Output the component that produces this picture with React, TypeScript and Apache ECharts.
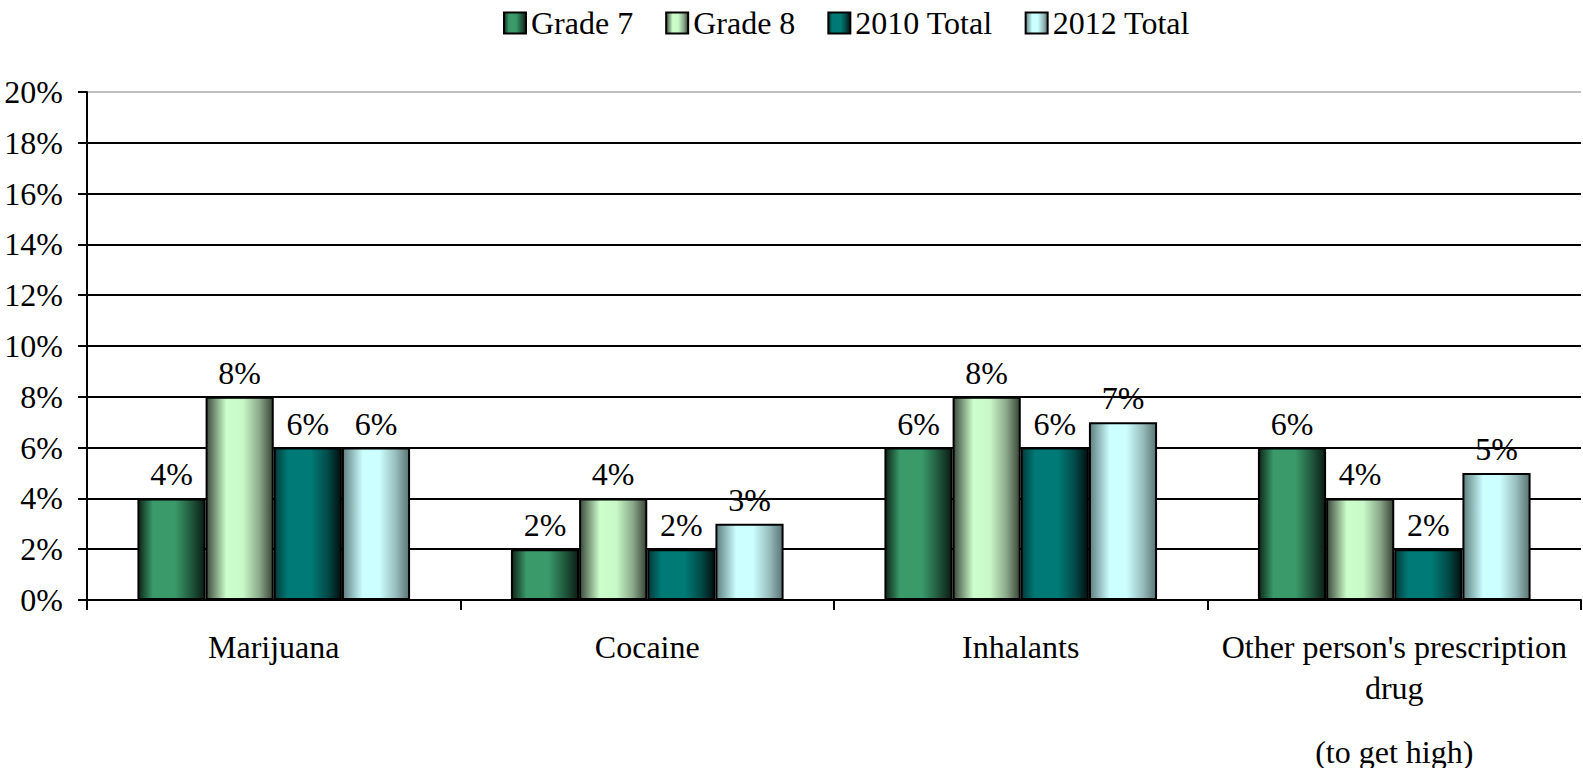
import React, { useEffect, useRef } from "react";
import * as echarts from "echarts";

const categories = [
  "Marijuana",
  "Cocaine",
  "Inhalants",
  "Other person's prescription\ndrug\n{b|(to get high)}",
];
const seriesNames = ["Grade 7", "Grade 8", "2010 Total", "2012 Total"];
const grade7 = [4, 2, 6, 6];
const grade8 = [8, 4, 8, 4];
const total2010 = [6, 2, 6, 2];
const total2012 = [6, 3, 7, 5];
const yTicks = [0, 2, 4, 6, 8, 10, 12, 14, 16, 18, 20];

const FONT = "'Liberation Serif', 'Times New Roman', serif";
const FS = 32;

function grad(stops: [number, string][]) {
  return new echarts.graphic.LinearGradient(
    0,
    0,
    1,
    0,
    stops.map(([offset, color]) => ({ offset, color }))
  );
}

const fills = [
  grad([
    [0, "#0e2619"],
    [0.22, "#3a9a6a"],
    [0.55, "#3a9a6a"],
    [0.75, "#256647"],
    [1, "#0b1d14"],
  ]),
  grad([
    [0, "#3d4a3d"],
    [0.3, "#ccffcc"],
    [0.55, "#c8f8c8"],
    [0.8, "#8aa88a"],
    [1, "#3a4536"],
  ]),
  grad([
    [0, "#003a3a"],
    [0.2, "#007a76"],
    [0.55, "#007a76"],
    [0.8, "#024a48"],
    [1, "#001010"],
  ]),
  grad([
    [0, "#5f7f80"],
    [0.3, "#ccffff"],
    [0.55, "#ccffff"],
    [0.8, "#98bcbc"],
    [1, "#5a7474"],
  ]),
];

export default function App() {
  const ref = useRef<HTMLDivElement>(null);
  useEffect(() => {
    if (!ref.current) return;
    const chart = echarts.init(ref.current, undefined, { renderer: "svg" });
    const data = [grade7, grade8, total2010, total2012];
    const splitColors = yTicks.map((t) => (t === 20 ? "#c0c0c0" : "#000000"));
    chart.setOption({
      animation: false,
      textStyle: { fontFamily: FONT },
      legend: {
        top: 2,
        left: 498,
        icon: "rect",
        itemWidth: 22,
        itemHeight: 21,
        itemGap: 32,
        textStyle: { fontFamily: FONT, fontSize: FS, color: "#000", lineHeight: 32 },
        data: seriesNames,
      },
      grid: {
        left: 87,
        right: 2,
        top: 92,
        bottom: 168,
        containLabel: false,
        outerBoundsMode: "none",
      },
      xAxis: {
        type: "category",
        data: categories,
        axisLine: { lineStyle: { color: "#000", width: 2 } },
        axisTick: { show: true, length: 10, lineStyle: { color: "#000", width: 2 } },
        axisLabel: {
          fontFamily: FONT,
          fontSize: FS,
          color: "#000",
          lineHeight: 41,
          margin: 26,
          interval: 0,
          rich: { b: { fontFamily: FONT, fontSize: FS, color: "#000", lineHeight: 87 } },
        },
      },
      yAxis: {
        type: "value",
        min: 0,
        max: 20,
        interval: 2,
        axisLine: { show: true, lineStyle: { color: "#000", width: 2 } },
        axisTick: { show: true, length: 9, lineStyle: { color: "#000", width: 2 } },
        axisLabel: {
          fontFamily: FONT,
          fontSize: FS,
          color: "#000",
          margin: 24,
          formatter: "{value}%",
        },
        splitLine: { show: true, lineStyle: { color: splitColors, width: 2 } },
      },
      series: seriesNames.map((name, i) => ({
        name,
        type: "bar",
        data: data[i],
        barGap: "0%",
        barCategoryGap: "27%",
        itemStyle: { color: fills[i], borderColor: "#000", borderWidth: 2 },
        label: {
          show: true,
          position: "top",
          distance: 8,
          formatter: "{c}%",
          fontFamily: FONT,
          fontSize: FS,
          color: "#000",
        },
      })),
    });
    return () => chart.dispose();
  }, []);
  return (
    <div
      ref={ref}
      style={{ position: "fixed", left: 0, top: 0, width: 1583, height: 768, background: "#fff" }}
    />
  );
}
